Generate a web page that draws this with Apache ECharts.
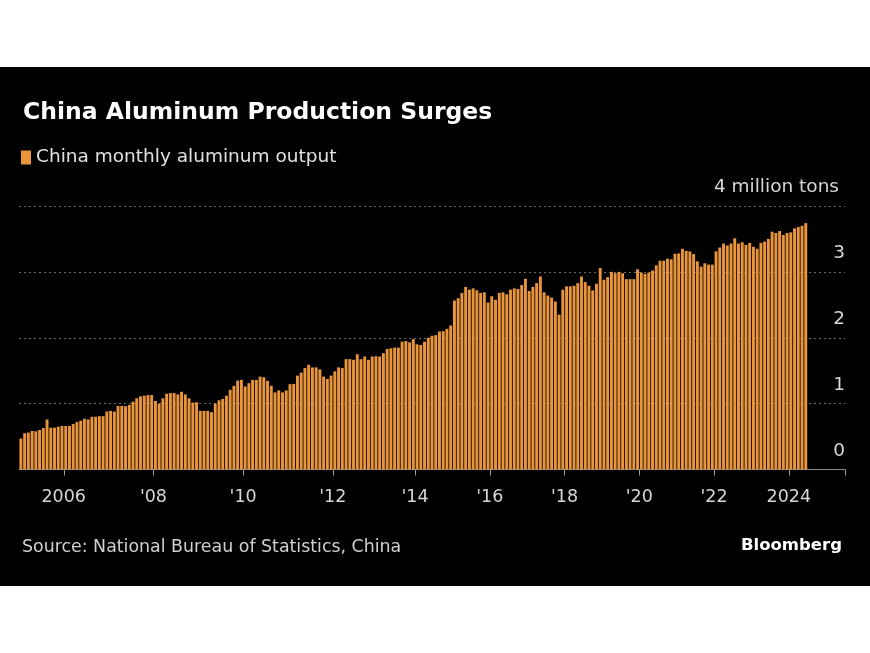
<!DOCTYPE html>
<html>
<head>
<meta charset="utf-8">
<script src="https://cdn.jsdelivr.net/npm/echarts@6/dist/echarts.min.js"></script>
<style>
  html, body { margin: 0; padding: 0; background: #ffffff; width: 870px; height: 653px; overflow: hidden; }
  #chart { position: absolute; left: 0; top: 67px; width: 870px; height: 519px; background: #000000; }
</style>
</head>
<body>
<div id="chart"></div>
<script>
// Monthly output, million tons (Jan/Feb not reported separately in later years)
const y2005 = [0.47, 0.55, 0.56, 0.585, 0.58, 0.60, 0.63, 0.76, 0.635, 0.635, 0.65, 0.66];
const y2006 = [0.66, 0.66, 0.69, 0.72, 0.74, 0.77, 0.76, 0.80, 0.80, 0.81, 0.81, 0.88];
const y2007 = [0.89, 0.88, 0.965, 0.965, 0.96, 0.98, 1.03, 1.08, 1.11, 1.12, 1.13, 1.13];
const y2008 = [1.04, 1.00, 1.08, 1.15, 1.16, 1.16, 1.14, 1.18, 1.14, 1.08, 1.015, 1.02];
const y2009 = [0.89, 0.89, 0.89, 0.87, 1.00, 1.05, 1.07, 1.12, 1.21, 1.27, 1.35, 1.36];
const y2010 = [1.26, 1.31, 1.36, 1.36, 1.41, 1.40, 1.345, 1.27, 1.17, 1.20, 1.17, 1.20];
const y2011 = [1.295, 1.30, 1.425, 1.47, 1.54, 1.59, 1.55, 1.55, 1.52, 1.41, 1.375, 1.425];
const y2012 = [1.49, 1.55, 1.54, 1.675, 1.675, 1.665, 1.75, 1.675, 1.715, 1.665, 1.715];
const y2013 = [1.72, 1.715, 1.765, 1.83, 1.84, 1.85, 1.85, 1.94, 1.95, 1.93, 1.98];
const y2014 = [1.90, 1.89, 1.94, 2.00, 2.03, 2.04, 2.095, 2.10, 2.135, 2.185];
const y2015 = [2.565, 2.60, 2.68, 2.77, 2.73, 2.75, 2.72, 2.68, 2.69, 2.535];
const y2016 = [2.63, 2.575, 2.68, 2.69, 2.66, 2.73, 2.75, 2.74, 2.80, 2.895];
const y2017 = [2.71, 2.77, 2.83, 2.93, 2.69, 2.64, 2.61, 2.55, 2.35, 2.73];
const y2018 = [2.78, 2.78, 2.79, 2.83, 2.93, 2.845, 2.79, 2.72, 2.82, 3.06];
const y2019 = [2.88, 2.92, 3.00, 2.98, 3.00, 2.98, 2.89, 2.89, 2.89, 3.04];
const y2020 = [2.99, 2.97, 2.99, 3.02, 3.10, 3.17, 3.17, 3.20, 3.19, 3.275];
const y2021 = [3.28, 3.35, 3.32, 3.31, 3.27, 3.16, 3.08, 3.13, 3.11, 3.11];
const y2022 = [3.31, 3.37, 3.43, 3.40, 3.43, 3.51, 3.43, 3.45, 3.41, 3.44];
const y2023 = [3.38, 3.35, 3.44, 3.46, 3.50, 3.61, 3.59, 3.62, 3.56, 3.59];
const y2024 = [3.60, 3.66, 3.68, 3.70, 3.74];

const yearlyValues = [y2005, y2006, y2007, y2008, y2009, y2010, y2011, y2012, y2013, y2014,
                      y2015, y2016, y2017, y2018, y2019, y2020, y2021, y2022, y2023, y2024];
const firstYear = 2005;

// x-axis tick labels (placed at the first reported month of each year)
const tickYears = [2006, 2008, 2010, 2012, 2014, 2016, 2018, 2020, 2022, 2024];
const tickLabels = ['2006', "'08", "'10", "'12", "'14", "'16", "'18", "'20", "'22", '2024'];

// y-axis labels
const yTickLabels = ['0', '1', '2', '3', '4 million tons'];

// Build categories: each year's months end at December (2024 ends at its last value)
const categories = [];
const values = [];
yearlyValues.forEach(function (arr, yi) {
  const year = firstYear + yi;
  const lastMonth = (year === 2024) ? 2 + arr.length : 12;
  const startMonth = lastMonth - arr.length + 1;
  arr.forEach(function (v, k) {
    const m = startMonth + k;
    categories.push(year + '-' + (m < 10 ? '0' : '') + m);
    values.push(v);
  });
});
// empty room to the right of the last bar (axis continues)
for (let i = 0; i < 10; i++) { categories.push('pad' + i); values.push(null); }

// first category index of each tick year
const tickIndex = {};
tickYears.forEach(function (y, i) {
  const idx = categories.findIndex(function (c) { return c.indexOf(y + '-') === 0; });
  tickIndex[idx] = tickLabels[i];
});

const FONT = 'DejaVu Sans';
const chart = echarts.init(document.getElementById('chart'), null, { renderer: 'canvas' });
chart.setOption({
  backgroundColor: '#000000',
  animation: false,
  textStyle: { fontFamily: FONT },
  title: [
    {
      text: 'China Aluminum Production Surges',
      left: 18, top: 29,
      textStyle: { color: '#ffffff', fontSize: 23.5, fontWeight: 'bold', fontFamily: FONT }
    },
    {
      text: 'Source: National Bureau of Statistics, China',
      left: 17, top: 467,
      textStyle: { color: '#d0d0d0', fontSize: 17.4, fontWeight: 'normal', fontFamily: FONT }
    },
    {
      text: 'Bloomberg',
      right: 23, top: 465,
      textStyle: { color: '#ffffff', fontSize: 16.5, fontWeight: 'bold', fontFamily: FONT }
    }
  ],
  legend: {
    left: 16, top: 76,
    icon: 'rect', itemWidth: 10, itemHeight: 14, itemGap: 6,
    textStyle: { color: '#e0e0e0', fontSize: 18.5, fontFamily: FONT },
    data: ['China monthly aluminum output']
  },
  grid: { left: 19, right: 25, top: 139, bottom: 116.5, containLabel: false },
  xAxis: {
    type: 'category',
    data: categories,
    boundaryGap: true,
    axisLine: { show: true, lineStyle: { color: '#8a8a8a', width: 1 } },
    axisTick: {
      show: true, length: 6, lineStyle: { color: '#9a9a9a' },
      interval: function (index) { return tickIndex[index] !== undefined; }
    },
    axisLabel: {
      show: true, color: '#d6d6d6', fontSize: 17.5, margin: 19, fontFamily: FONT,
      interval: function (index) { return tickIndex[index] !== undefined; },
      formatter: function (value, index) { return tickIndex[index] || ''; },
      padding: [0, 4, 0, 0]
    },
    splitLine: { show: false }
  },
  yAxis: {
    type: 'value',
    position: 'right',
    min: 0, max: 4, interval: 1,
    axisLine: { show: false },
    axisTick: { show: false },
    axisLabel: {
      inside: true, margin: 0, align: 'right', verticalAlign: 'bottom',
      padding: [0, 0, 9, 0],
      color: '#d6d6d6', fontSize: 18.5, fontFamily: FONT,
      formatter: function (v) {
        const i = Math.round(v);
        return i === 4 ? '{u|' + yTickLabels[i] + '}' : yTickLabels[i];
      },
      rich: { u: { color: '#d6d6d6', fontSize: 18.5, fontFamily: FONT, padding: [0, 6, 0, 0] } }
    },
    splitLine: { show: true, lineStyle: { color: '#6a6a6a', type: [2, 3], width: 1 } }
  },
  series: [{
    name: 'China monthly aluminum output',
    type: 'bar',
    data: values,
    barCategoryGap: '22%',
    itemStyle: { color: '#E8953C' },
    z: 2
  }]
});
</script>
</body>
</html>
